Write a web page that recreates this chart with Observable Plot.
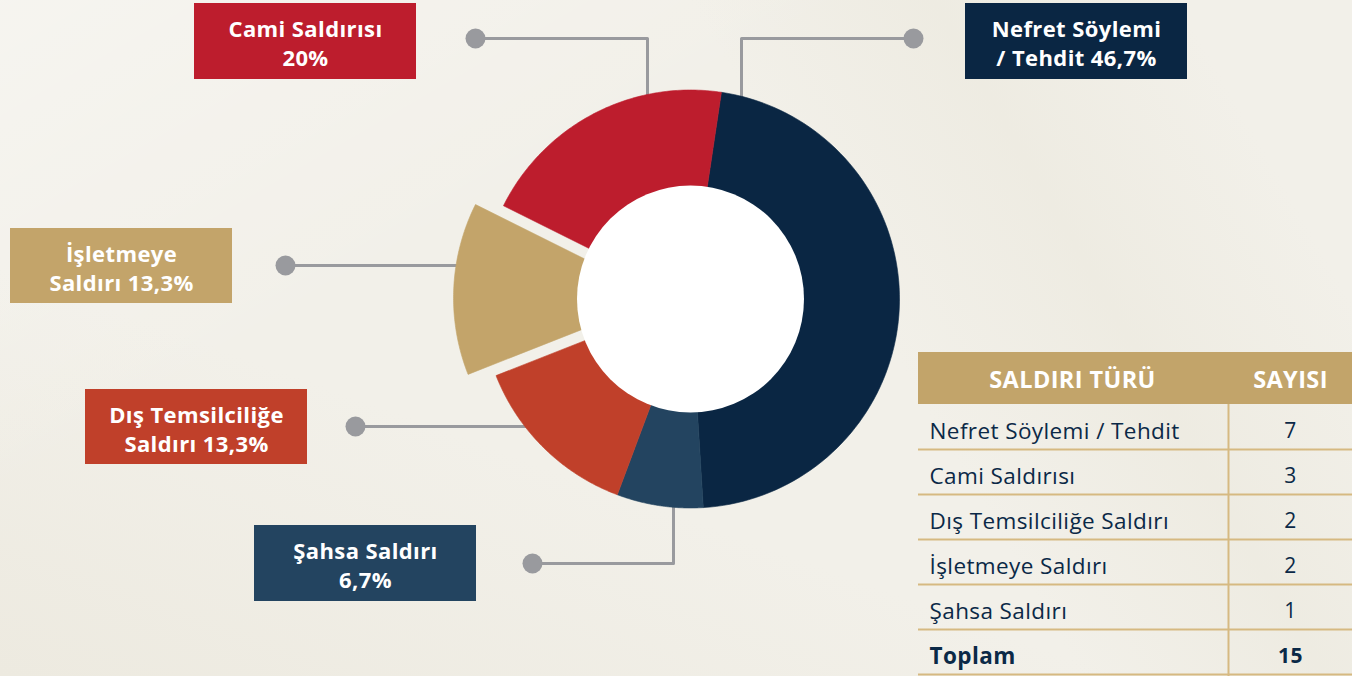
<!DOCTYPE html>
<html>
<head>
<meta charset="utf-8">
<script src="https://cdn.jsdelivr.net/npm/d3@7"></script>
<script src="https://cdn.jsdelivr.net/npm/@observablehq/plot@0.6"></script>
<style>
  html, body { margin: 0; padding: 0; }
  body {
    width: 1352px; height: 676px; overflow: hidden;
    background:
      linear-gradient(150deg, rgba(255,255,255,0.3) 0%, rgba(255,255,255,0) 35%),
      linear-gradient(60deg, rgba(232,228,214,0) 0%, rgba(232,228,214,0) 62%, rgba(234,231,219,0.5) 76%, rgba(232,228,214,0) 90%),
      linear-gradient(20deg, rgba(232,228,215,0.5) 0%, rgba(240,238,230,0) 35%),
      #f2f0e9;
  }
  #chart svg text { letter-spacing: 0.4px; }
</style>
</head>
<body>
<div id="chart"></div>
<script>
// ---- data (table order) ----
const categories = [
  "Nefret Söylemi / Tehdit",
  "Cami Saldırısı",
  "Dış Temsilciliğe Saldırı",
  "İşletmeye Saldırı",
  "Şahsa Saldırı"
];
const counts = [7, 3, 2, 2, 1];
const percentLabels = ["46,7%", "20%", "13,3%", "13,3%", "6,7%"];
const boxLabels = [
  "Nefret Söylemi\n/ Tehdit 46,7%",
  "Cami Saldırısı\n20%",
  "Dış Temsilciliğe\nSaldırı 13,3%",
  "İşletmeye\nSaldırı 13,3%",
  "Şahsa Saldırı\n6,7%"
];
const headerLabels = ["SALDIRI TÜRÜ", "SAYISI"];
const totalLabel = "Toplam";
// clockwise order of slices, starting near 12 o'clock
const sliceOrder = [
  "Nefret Söylemi / Tehdit",
  "Şahsa Saldırı",
  "Dış Temsilciliğe Saldırı",
  "İşletmeye Saldırı",
  "Cami Saldırısı"
];

// ---- styles ----
const colors = {
  "Nefret Söylemi / Tehdit": "#0a2643",
  "Cami Saldırısı": "#bd1d2d",
  "Dış Temsilciliğe Saldırı": "#c0402a",
  "İşletmeye Saldırı": "#c3a46a",
  "Şahsa Saldırı": "#234460"
};
const leaderColor = "#999a9e";
const navyText = "#0b2947";
const tan = "#c2a46a";
const tanLine = "#d6b981";
const FONT = "Open Sans";

// ---- layout ----
const W = 1352, H = 676;
const cx = 690, cy = 298.5, R = 209, hole = 113.5;
const startDeg = 8.5;
const explode = {"İşletmeye Saldırı": 28};
const boxLayout = {
  "Nefret Söylemi / Tehdit": {x1: 965, x2: 1187, y1: 3, y2: 79},
  "Cami Saldırısı": {x1: 194, x2: 416, y1: 3, y2: 79},
  "İşletmeye Saldırı": {x1: 10, x2: 232, y1: 228, y2: 303},
  "Dış Temsilciliğe Saldırı": {x1: 85, x2: 307, y1: 389, y2: 464},
  "Şahsa Saldırı": {x1: 254, x2: 476, y1: 525, y2: 601}
};
const leaderLayout = {
  "Nefret Söylemi / Tehdit": {dx: 913, dy: 38, elbowX: 741, side: "top"},
  "Cami Saldırısı": {dx: 475, dy: 38, elbowX: 647, side: "top"},
  "İşletmeye Saldırı": {dx: 285, dy: 265, side: "left"},
  "Dış Temsilciliğe Saldırı": {dx: 355, dy: 426, side: "left"},
  "Şahsa Saldırı": {dx: 532, dy: 563, elbowX: 673, side: "bottom"}
};
const table = {x1: 918, x2: 1352, colX: 1228, headY1: 352, headY2: 404, rowH: 45, nameX: 929, numX: 1290, nameHeadX: 1072};

// ---- pie geometry ----
const sliceData = sliceOrder.map(name => ({name, value: counts[categories.indexOf(name)]}));
const s0 = startDeg * Math.PI / 180;
const arcs = d3.pie().sort(null).value(d => d.value).startAngle(s0).endAngle(s0 + 2 * Math.PI)(sliceData);

const wedgePoints = [];
const centers = {};
for (const a of arcs) {
  const name = a.data.name;
  const off = explode[name] || 0;
  const mid = (a.startAngle + a.endAngle) / 2;
  const ox = cx + off * Math.sin(mid), oy = cy - off * Math.cos(mid);
  centers[name] = {x: ox, y: oy};
  const n = 90;
  wedgePoints.push({name, x: ox, y: oy});
  for (let k = 0; k <= n; ++k) {
    const t = a.startAngle + (a.endAngle - a.startAngle) * k / n;
    wedgePoints.push({name, x: ox + R * Math.sin(t), y: oy - R * Math.cos(t)});
  }
  wedgePoints.push({name, x: ox, y: oy});
}

// leader polylines, ending slightly inside the slice edge
const leaderPoints = [];
const leaderDots = [];
for (const name of sliceOrder) {
  const L = leaderLayout[name];
  const c = centers[name];
  leaderDots.push({name, x: L.dx, y: L.dy});
  leaderPoints.push({name, x: L.dx, y: L.dy});
  if (L.side === "top" || L.side === "bottom") {
    const h = Math.sqrt(R * R - (L.elbowX - c.x) ** 2);
    const yEdge = L.side === "top" ? c.y - h + 4 : c.y + h - 4;
    leaderPoints.push({name, x: L.elbowX, y: L.dy});
    leaderPoints.push({name, x: L.elbowX, y: yEdge});
  } else {
    const w = Math.sqrt(R * R - (L.dy - c.y) ** 2);
    leaderPoints.push({name, x: c.x - w + 4, y: L.dy});
  }
}

const boxes = categories.map((name, i) => ({name, label: boxLabels[i], ...boxLayout[name]}));

// ---- table ----
const rows = categories.map((name, i) => ({name, count: counts[i], i}));
const totalRow = [{name: totalLabel, count: d3.sum(counts), i: categories.length}];
const rowLines = d3.range(rows.length + 1).map(i => ({y: table.headY2 + table.rowH * (i + 1)}));
const headerRect = [{x1: table.x1, x2: table.x2, y1: table.headY1, y2: table.headY2}];
const headerText = [
  {x: table.nameHeadX, y: (table.headY1 + table.headY2) / 2 + 2, t: headerLabels[0]},
  {x: table.numX, y: (table.headY1 + table.headY2) / 2 + 2, t: headerLabels[1]}
];
const rowY = r => table.headY2 + table.rowH * r.i + 27;
const nameOpts = {x: table.nameX, y: rowY, text: "name", fill: navyText, fontSize: 22.5, fontFamily: FONT, textAnchor: "start", lineAnchor: "middle"};
const numOpts = {x: table.numX, y: rowY, text: d => String(d.count), fill: navyText, fontSize: 21, fontFamily: FONT, textAnchor: "middle", lineAnchor: "middle"};

const chart = Plot.plot({
  width: W, height: H,
  margin: 0,
  x: {domain: [0, W], range: [0, W], axis: null},
  y: {domain: [0, H], range: [0, H], axis: null},
  style: {background: "transparent", fontFamily: FONT},
  marks: [
    // leaders
    Plot.line(leaderPoints, {x: "x", y: "y", z: "name", stroke: leaderColor, strokeWidth: 3, curve: "linear"}),
    Plot.dot(leaderDots, {x: "x", y: "y", r: 10, fill: leaderColor, stroke: null}),
    // slices
    ...sliceOrder.map(name =>
      Plot.line(wedgePoints.filter(d => d.name === name), {x: "x", y: "y", fill: colors[name], stroke: colors[name], strokeWidth: 0.6})
    ),
    Plot.dot([{x: cx, y: cy}], {x: "x", y: "y", r: hole, fill: "white", stroke: null}),
    // label boxes
    Plot.rect(boxes, {x1: "x1", x2: "x2", y1: "y1", y2: "y2", fill: d => colors[d.name]}),
    Plot.text(boxes, {
      x: d => (d.x1 + d.x2) / 2, y: d => (d.y1 + d.y2) / 2 + 1,
      text: "label", fill: "white", fontSize: 22, fontWeight: 700, lineHeight: 1.32,
      fontFamily: FONT, textAnchor: "middle", lineAnchor: "middle"
    }),
    // table
    Plot.rect(headerRect, {x1: "x1", x2: "x2", y1: "y1", y2: "y2", fill: tan}),
    Plot.text(headerText, {x: "x", y: "y", text: "t", fill: "white", fontSize: 23.5, fontWeight: 700, fontFamily: FONT, textAnchor: "middle", lineAnchor: "middle"}),
    Plot.ruleY(rowLines, {y: "y", x1: table.x1, x2: table.x2, stroke: tanLine, strokeWidth: 2}),
    Plot.ruleX([{x: table.colX, y1: table.headY2, y2: H}], {x: "x", y1: "y1", y2: "y2", stroke: tanLine, strokeWidth: 2}),
    Plot.text(rows, {...nameOpts, fontWeight: 400}),
    Plot.text(totalRow, {...nameOpts, fontWeight: 700}),
    Plot.text(rows, {...numOpts, fontWeight: 400}),
    Plot.text(totalRow, {...numOpts, fontWeight: 700})
  ]
});
document.getElementById("chart").appendChild(chart);
</script>
</body>
</html>
